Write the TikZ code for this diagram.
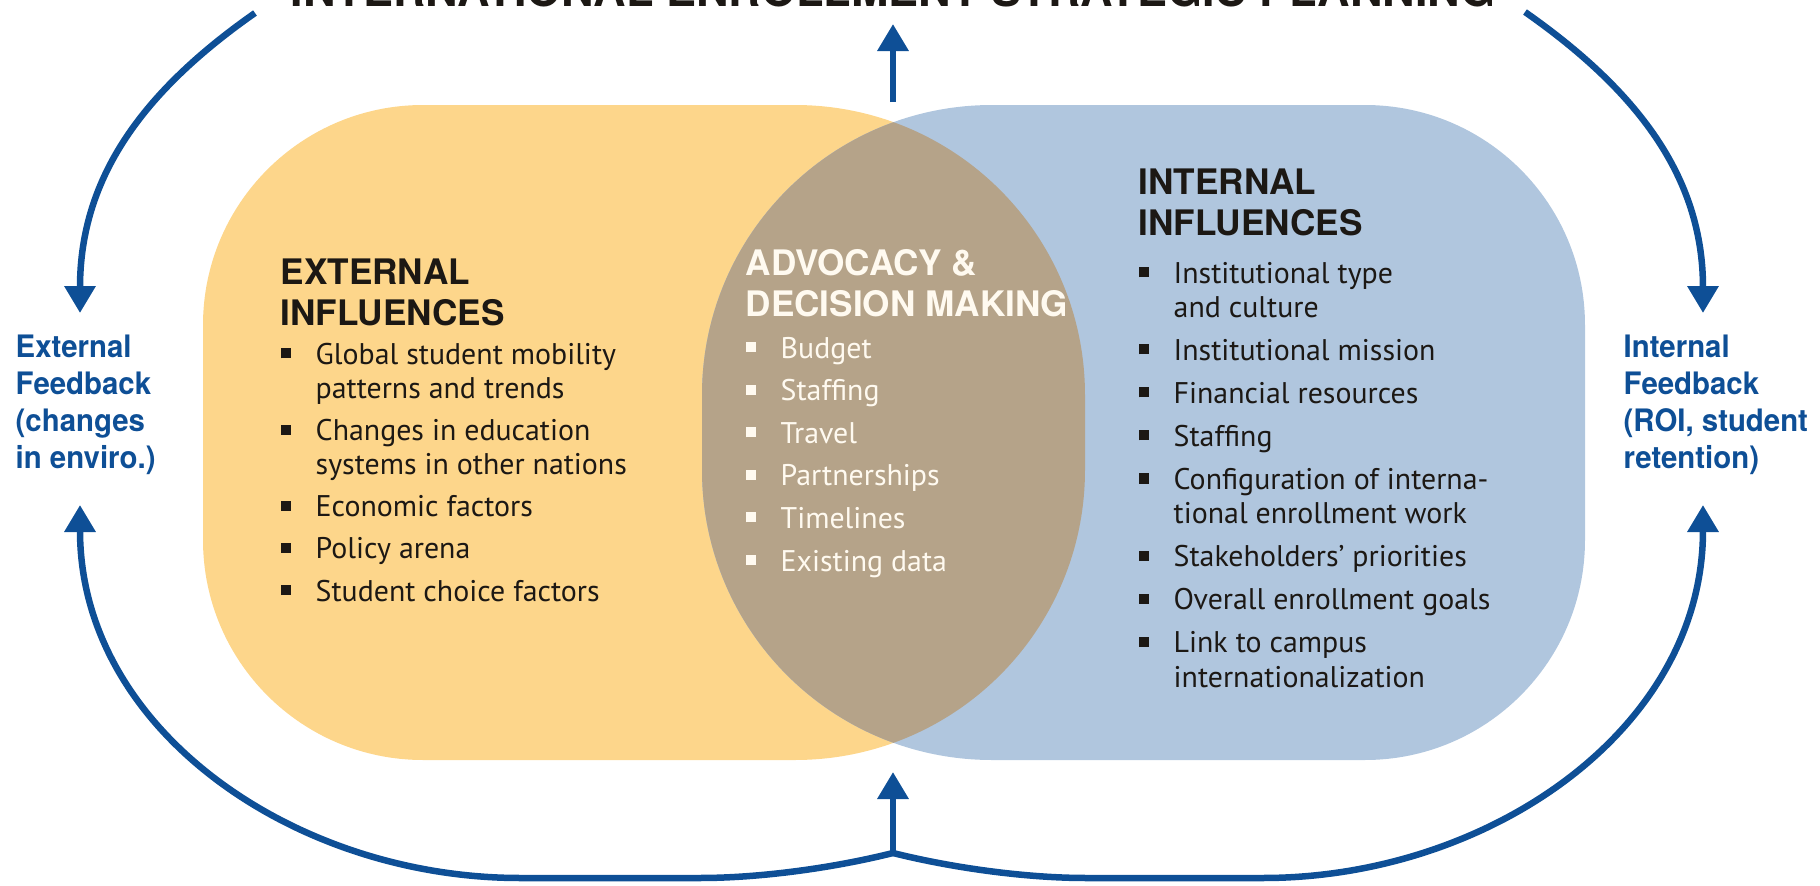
\documentclass[tikz,border=0pt]{standalone}
\usepackage{fontspec}
\setmainfont{PT Sans}
\newfontfamily\headfont{TeX Gyre Heros}
\newfontfamily\fbfont[FakeStretch=0.95]{TeX Gyre Heros}
\usetikzlibrary{arrows.meta}

\definecolor{extyellow}{RGB}{253,214,139}
\definecolor{intblue}{RGB}{176,198,222}
\definecolor{overlap}{RGB}{181,163,137}
\definecolor{fbblue}{RGB}{14,79,150}
\definecolor{cream}{RGB}{255,250,240}
\definecolor{ink}{RGB}{28,24,20}

% square bullet and hanging indent
\newcommand{\sqb}{\makebox[3.5mm][l]{\rule[0.2em]{0.34em}{0.34em}}}
\newcommand{\ind}{\hspace*{3.5mm}}

% outlines of the two fields (outer corners 2.2cm, inner corners 2.9cm)
\newcommand{\extfield}{(4.23,7.80) -- (7.95,7.80) arc[start angle=90, end angle=0, radius=2.9cm]
  -- (10.85,4.15) arc[start angle=0, end angle=-90, radius=2.9cm]
  -- (4.23,1.25) arc[start angle=270, end angle=180, radius=2.2cm]
  -- (2.03,5.60) arc[start angle=180, end angle=90, radius=2.2cm] -- cycle}
\newcommand{\intfield}{(9.92,7.80) -- (13.65,7.80) arc[start angle=90, end angle=0, radius=2.2cm]
  -- (15.85,3.45) arc[start angle=0, end angle=-90, radius=2.2cm]
  -- (9.92,1.25) arc[start angle=270, end angle=180, radius=2.9cm]
  -- (7.02,4.90) arc[start angle=180, end angle=90, radius=2.9cm] -- cycle}

% text blocks are placed at the baseline of their last line
\tikzset{
  fb/.style={draw=fbblue, line width=0.65mm, -{Triangle[width=3mm,length=2.7mm]}},
  head/.style={anchor=base west, inner sep=0, align=left, text=ink,
    font=\headfont\bfseries\fontsize{10}{11.4}\selectfont},
  items/.style={anchor=base west, inner sep=0, align=left, text=ink,
    font=\fontsize{8.5}{9.7}\selectfont},
  fblabel/.style={anchor=base west, inner sep=0, align=left, text=fbblue,
    font=\fbfont\bfseries\fontsize{8.8}{10.5}\selectfont},
}

\begin{document}
\begin{tikzpicture}
  \useasboundingbox (0,0) rectangle (18.2,8.85);

  % the two fields and their overlap
  \fill[extyellow] \extfield;
  \fill[intblue] \intfield;
  \begin{scope}
    \clip \extfield;
    \fill[overlap] \intfield;
  \end{scope}

  \node at (8.93,8.785) [anchor=base, inner sep=0, text=ink,
    font=\headfont\bfseries\fontsize{12.8}{14}\selectfont] (title)
    {INTERNATIONAL ENROLLMENT STRATEGIC PLANNING};

  % external
  \node at (2.80,5.60) [head] (exthead) {EXTERNAL\\INFLUENCES};
  \node at (2.80,2.84) [items] (extlist) {\sqb Global student mobility\\
    \ind patterns and trends\\[0.8mm]
    \sqb Changes in education\\
    \ind systems in other nations\\[0.8mm]
    \sqb Economic factors\\[0.8mm]
    \sqb Policy arena\\[0.8mm]
    \sqb Student choice factors};

  % overlap
  \node at (7.45,5.69) [head, text=cream] (advhead) {ADVOCACY \&\\DECISION MAKING};
  \node at (7.45,3.14) [items, text=cream] (advlist) {\sqb Budget\\[0.85mm]
    \sqb Staffing\\[0.85mm]
    \sqb Travel\\[0.85mm]
    \sqb Partnerships\\[0.85mm]
    \sqb Timelines\\[0.85mm]
    \sqb Existing data};

  % internal
  \node at (11.38,6.50) [head] (inthead) {INTERNAL\\INFLUENCES};
  \node at (11.38,1.98) [items] (intlist) {\sqb Institutional type\\
    \ind and culture\\[0.9mm]
    \sqb Institutional mission\\[0.9mm]
    \sqb Financial resources\\[0.9mm]
    \sqb Staffing\\[0.9mm]
    \sqb Configuration of interna-\\
    \ind tional enrollment work\\[0.9mm]
    \sqb Stakeholders' priorities\\[0.9mm]
    \sqb Overall enrollment goals\\[0.9mm]
    \sqb Link to campus\\
    \ind internationalization};

  % feedback labels
  \node at (0.15,4.17) [fblabel] (extfb) {External\\Feedback\\(changes\\in enviro.)};
  \node at (16.23,4.17) [fblabel] (intfb) {Internal\\Feedback\\(ROI, student\\retention)};

  \coordinate (tl) at (2.55,8.72);
  \coordinate (tr) at (15.25,8.73);
  \coordinate (extin) at (0.80,5.72);
  \coordinate (intin) at (17.03,5.72);
  \coordinate (extout) at (0.80,3.80);
  \coordinate (intout) at (17.03,3.80);
  \coordinate (jn) at (8.93,0.32);
  \coordinate (topout) at (8.93,7.83);
  \coordinate (toptip) at (8.93,8.61);
  \coordinate (bottip) at (8.93,1.13);

  \draw[fb] (tl) to[out=215,in=90] (extin);
  \draw[fb] (tr) to[out=-35,in=90] (intin);
  \draw[fb] (topout) -- (toptip);
  \draw[fb] (jn) -- (bottip);
  \draw[fb] (jn) .. controls (8.33,0.17) and (7.6,0.07) .. (7.0,0.07)
    -- (5.2,0.07) to[out=180,in=-90] (extout);
  \draw[fb] (jn) .. controls (9.53,0.17) and (10.26,0.07) .. (10.86,0.07)
    -- (12.63,0.07) to[out=0,in=-90] (intout);
\end{tikzpicture}
\end{document}
